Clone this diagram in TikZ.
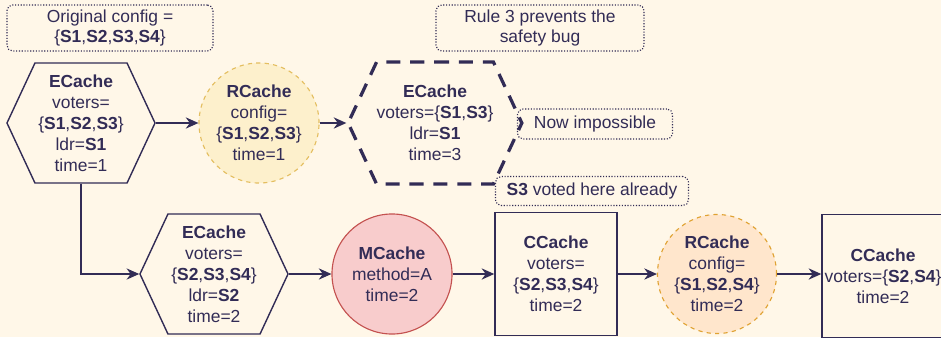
\documentclass[tikz,border=0pt]{standalone}
\usepackage{fontspec}
\setmainfont{Liberation Sans}
\usetikzlibrary{shapes.symbols,arrows.meta}

\definecolor{bgcol}{RGB}{255,247,232}
\definecolor{ink}{RGB}{50,44,86}
\definecolor{yelfill}{RGB}{253,240,204}
\definecolor{yelline}{RGB}{228,190,96}
\definecolor{redfill}{RGB}{248,204,204}
\definecolor{redline}{RGB}{196,82,80}
\definecolor{orgfill}{RGB}{255,230,204}
\definecolor{orgline}{RGB}{224,162,50}

\tikzset{
  every node/.style={text=ink, align=center, font=\fontsize{12.4}{14.9}\selectfont},
  hexbox/.style={draw=ink, line width=1pt, signal, signal to=west and east,
    signal pointer angle=130, minimum width=3.7cm, minimum height=3cm, inner sep=0pt},
  cachecircle/.style={circle, line width=0.8pt, minimum size=3cm, inner sep=0pt},
  cachebox/.style={draw=ink, line width=1pt, minimum width=3.05cm, minimum height=3.075cm, inner sep=0pt},
  notebox/.style={draw=ink, dash pattern=on 0.8pt off 1.2pt, line width=0.8pt, rounded corners=4pt, inner sep=0pt},
  link/.style={draw=ink, line width=1.1pt, -{Stealth[length=9pt,width=8pt]}}
}

\begin{document}
\begin{tikzpicture}[x=0.025cm, y=-0.025cm]
  \fill[bgcol] (0,0) rectangle (941,337);
  \useasboundingbox (0,0) rectangle (941,337);

  % 上面一行
  \node[notebox, minimum width=5.15cm, minimum height=1.15cm] (origNote) at (110,28)
    {Original config =\\\{\textbf{S1},\textbf{S2},\textbf{S3},\textbf{S4}\}};
  \node[notebox, minimum width=5.2cm, minimum height=1.15cm] (ruleNote) at (540,28)
    {Rule 3 prevents the\\safety bug};

  \node[hexbox] (hexA) at (81,123)
    {\textbf{ECache}\\voters=\\\{\textbf{S1},\textbf{S2},\textbf{S3}\}\\ldr=\textbf{S1}\\time=1};
  \node[cachecircle, fill=yelfill, draw=yelline, dashed] (rcA) at (259,123)
    {\textbf{RCache}\\config=\\\{\textbf{S1},\textbf{S2},\textbf{S3}\}\\time=1};
  \node[hexbox, line width=2.3pt, dash pattern=on 10pt off 7pt, minimum width=3.725cm, minimum height=3.05cm] (hexB) at (435,123)
    {\textbf{ECache}\\voters=\{\textbf{S1},\textbf{S3}\}\\ldr=\textbf{S1}\\time=3};
  \node[notebox, minimum width=3.875cm, minimum height=0.75cm] (nowNote) at (595,124)
    {Now impossible};
  \node[notebox, minimum width=4.825cm, minimum height=0.725cm] (votedNote) at (592,191)
    {\textbf{S3} voted here already};

  % 下面一行
  \node[hexbox] (hexC) at (214,274)
    {\textbf{ECache}\\voters=\\\{\textbf{S2},\textbf{S3},\textbf{S4}\}\\ldr=\textbf{S2}\\time=2};
  \node[cachecircle, fill=redfill, draw=redline] (mcA) at (392,274)
    {\textbf{MCache}\\method=A\\time=2};
  \node[cachebox] (ccA) at (556,274)
    {\textbf{CCache}\\voters=\\\{\textbf{S2},\textbf{S3},\textbf{S4}\}\\time=2};
  \node[cachecircle, fill=orgfill, draw=orgline, dashed, minimum size=2.975cm] (rcB) at (717,274)
    {\textbf{RCache}\\config=\\\{\textbf{S1},\textbf{S2},\textbf{S4}\}\\time=2};
  \node[cachebox] (ccB) at (883,276)
    {\textbf{CCache}\\voters=\{\textbf{S2},\textbf{S4}\}\\time=2};

  \draw[link] (hexA.east) -- (rcA.west);
  \draw[link] (rcA.east) -- (hexB.west);
  \draw[link] (hexA.south) |- (hexC.west);
  \draw[link] (hexC.east) -- (mcA.west);
  \draw[link] (mcA.east) -- (ccA.west);
  \draw[link] (ccA.east) -- (rcB.west);
  \draw[link] (rcB.east) -- (rcB.east -| ccB.west); % 保持水平
\end{tikzpicture}
\end{document}
